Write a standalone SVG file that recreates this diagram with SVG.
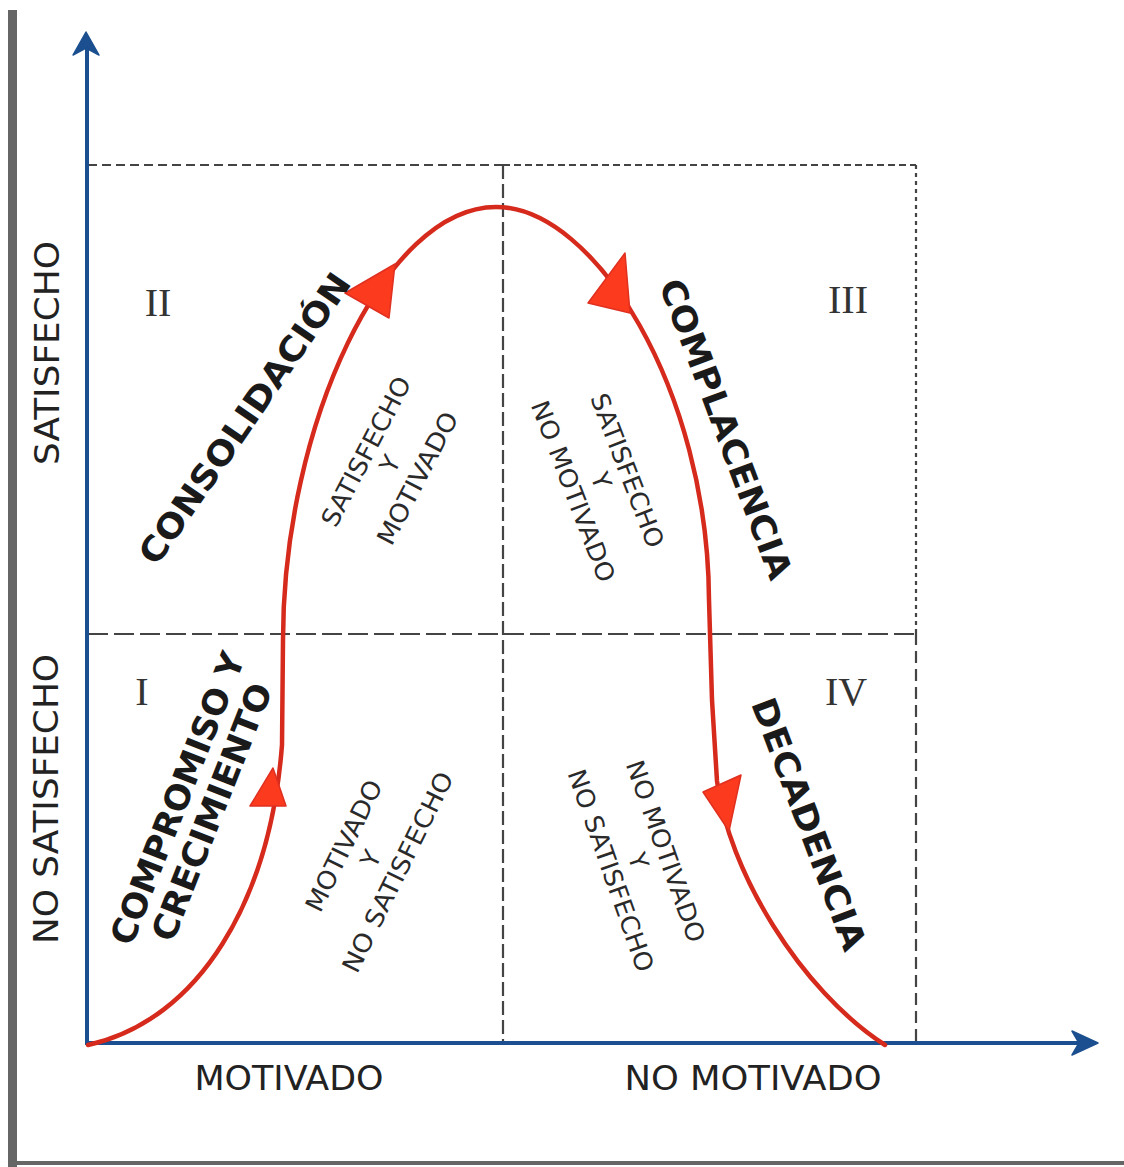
<svg xmlns="http://www.w3.org/2000/svg" width="1124" height="1167" viewBox="0 0 1124 1167">
<style>
.axis{stroke:#1b4f8f;stroke-width:4;fill:none}
.axhead{fill:#1b4f8f;stroke:#1b4f8f;stroke-width:1.5;stroke-linejoin:round}
.grid{stroke:#444;stroke-width:2.2;fill:none}
.curve{stroke:#d52a1c;stroke-width:4.5;fill:none;stroke-linecap:round}
.ah{fill:#fb3a1e;stroke:#e03020;stroke-width:1.5;stroke-linejoin:round}
.ax{font-family:"DejaVu Sans","Liberation Sans",sans-serif;font-size:34px;fill:#222}
.big{font-family:"DejaVu Sans","Liberation Sans",sans-serif;font-weight:bold;font-size:34px;fill:#1a1a1a}
.sm{font-family:"DejaVu Sans","Liberation Sans",sans-serif;font-size:25px;fill:#2a2a2a}
.rn{font-family:"Liberation Serif","Times New Roman",serif;font-size:40px;fill:#333}
</style>
<rect width="1124" height="1167" fill="#fff"/>
<g id="frame">
<rect x="8" y="10" width="9" height="1157" fill="#666"/>
<rect x="8" y="1161" width="1116" height="4" fill="#666"/>
</g>
<g id="grid">
<path class="grid" d="M88 165 H503" stroke-dasharray="9 5"/>
<path class="grid" d="M503 165 H916" stroke-dasharray="7 4"/>
<path class="grid" d="M916 165 V633" stroke-dasharray="4 4"/>
<path class="grid" d="M916 633 V1043" stroke-dasharray="12 6"/>
<path class="grid" d="M503 165 V1043" stroke-dasharray="14 5"/>
<path class="grid" d="M88 634 H916" stroke-dasharray="20 6"/>
</g>
<g id="axes">
<path class="axis" d="M87 1045 V44"/>
<path class="axhead" d="M86 32 L99 55 L86 48 L73 55 Z"/>
<path class="axis" d="M86 1043 H1086"/>
<path class="axhead" d="M1098 1043 L1072 1031 L1079 1043 L1072 1055 Z"/>
</g>
<g id="connectors">
<path class="curve" d="M88 1045 C200 1020 270 900 282 745 L283 640 C283 425 385 207 496 207 C595 207 708 390 709 600 L712 700 L717 781 C728 870 800 990 885 1045"/>
<path class="ah" d="M273 768 L250 806 L286 806 Z"/>
<path class="ah" d="M395 264 L345 293 L389 318 Z"/>
<path class="ah" d="M625 253 L588 303 L630 313 Z"/>
<path class="ah" d="M703 792 L741 775 L729 831 Z"/>
</g>
<g id="axis-labels">
<text class="ax" transform="translate(59 353) rotate(-90)" text-anchor="middle" textLength="224" lengthAdjust="spacingAndGlyphs">SATISFECHO</text>
<text class="ax" transform="translate(58 799) rotate(-90)" text-anchor="middle" textLength="290" lengthAdjust="spacingAndGlyphs">NO SATISFECHO</text>
<text class="ax" x="289" y="1090" font-size="33" text-anchor="middle" textLength="189" lengthAdjust="spacingAndGlyphs">MOTIVADO</text>
<text class="ax" x="753" y="1090" font-size="33" text-anchor="middle" textLength="257" lengthAdjust="spacingAndGlyphs">NO MOTIVADO</text>
</g>
<g id="quadrant-II">
<text class="rn" x="158" y="316" text-anchor="middle">II</text>
<text class="big" transform="translate(244.5 418.5) rotate(-55.4)" text-anchor="middle" dominant-baseline="central" textLength="345" lengthAdjust="spacingAndGlyphs">CONSOLIDACIÓN</text>
<g transform="translate(392 465) rotate(-62.5)" class="sm" text-anchor="middle" dominant-baseline="central">
<text x="0" y="-29" textLength="165" lengthAdjust="spacingAndGlyphs">SATISFECHO</text>
<text x="0" y="-2">Y</text>
<text x="0" y="29" textLength="146" lengthAdjust="spacingAndGlyphs">MOTIVADO</text>
</g>
</g>
<g id="quadrant-III">
<text class="rn" x="848" y="313" text-anchor="middle">III</text>
<text class="big" transform="translate(726 429) rotate(69.4)" text-anchor="middle" dominant-baseline="central" textLength="318" lengthAdjust="spacingAndGlyphs">COMPLACENCIA</text>
<g transform="translate(600 481) rotate(69)" class="sm" text-anchor="middle" dominant-baseline="central">
<text x="0" y="-29" textLength="163" lengthAdjust="spacingAndGlyphs">SATISFECHO</text>
<text x="0" y="-1">Y</text>
<text x="0" y="29" textLength="192" lengthAdjust="spacingAndGlyphs">NO MOTIVADO</text>
</g>
</g>
<g id="quadrant-I">
<text class="rn" x="142" y="705" text-anchor="middle">I</text>
<g transform="translate(194 805) rotate(-68.5)" class="big" font-size="31" text-anchor="middle" dominant-baseline="central">
<text x="0" y="-18" textLength="311" lengthAdjust="spacingAndGlyphs">COMPROMISO Y</text>
<text x="0" y="19" textLength="274" lengthAdjust="spacingAndGlyphs">CRECIMIENTO</text>
</g>
<g transform="translate(371 859) rotate(-63.8)" class="sm" text-anchor="middle" dominant-baseline="central">
<text x="0" y="-30" textLength="143" lengthAdjust="spacingAndGlyphs">MOTIVADO</text>
<text x="0" y="0">Y</text>
<text x="0" y="30" textLength="220" lengthAdjust="spacingAndGlyphs">NO SATISFECHO</text>
</g>
</g>
<g id="quadrant-IV">
<text class="rn" x="846" y="705" text-anchor="middle">IV</text>
<text class="big" transform="translate(809 824) rotate(69.4)" text-anchor="middle" dominant-baseline="central" textLength="267" lengthAdjust="spacingAndGlyphs">DECADENCIA</text>
<g transform="translate(638 861) rotate(70.6)" class="sm" text-anchor="middle" dominant-baseline="central">
<text x="0" y="-29" textLength="191" lengthAdjust="spacingAndGlyphs">NO MOTIVADO</text>
<text x="0" y="0">Y</text>
<text x="0" y="29" textLength="213" lengthAdjust="spacingAndGlyphs">NO SATISFECHO</text>
</g>
</g>
</svg>
